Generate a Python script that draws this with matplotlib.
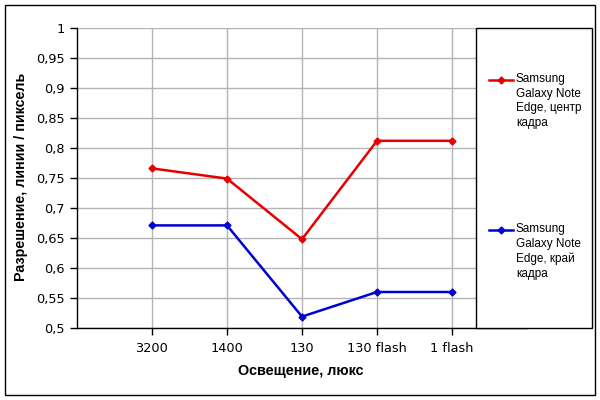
import matplotlib
matplotlib.use("Agg")
import matplotlib.pyplot as plt
from matplotlib.patches import Rectangle
from matplotlib.lines import Line2D
from matplotlib.ticker import FuncFormatter

plt.rcParams['font.family'] = ['Liberation Sans', 'DejaVu Sans']

# data
categories = ["3200", "1400", "130", "130 flash", "1 flash"]
center = [0.766, 0.749, 0.648, 0.812, 0.812]
edge = [0.671, 0.671, 0.519, 0.560, 0.560]
series_names = ["Samsung\nGalaxy Note\nEdge, центр\nкадра",
                "Samsung\nGalaxy Note\nEdge, край\nкадра"]
red = "#e60000"
blue = "#0000d2"

fig = plt.figure(figsize=(6, 4), dpi=100)
ax = fig.add_axes([77 / 600, 72 / 400, 450 / 600, 300 / 400])

x = list(range(1, len(categories) + 1))
ax.plot(x, center, color=red, lw=1.8, marker="D", ms=3.5, zorder=3)
ax.plot(x, edge, color=blue, lw=1.8, marker="D", ms=3.5, zorder=3)

ax.set_xlim(0, 6)
ax.set_ylim(0.5, 1.0)
ax.set_xticks(x)
ax.set_xticklabels(categories, fontsize=9.3, family="DejaVu Sans")
ax.set_yticks([0.5 + 0.05 * i for i in range(11)])
ax.yaxis.set_major_formatter(FuncFormatter(
    lambda v, p: ("%g" % round(v, 2)).replace(".", ",")))
for lab in ax.get_yticklabels():
    lab.set_family("DejaVu Sans")
ax.tick_params(axis="y", labelsize=9.3, length=5, width=1, pad=4)
ax.tick_params(axis="x", length=5, width=1, pad=5)
ax.grid(True, color="#b4b4b4", lw=1)
ax.set_axisbelow(True)
for s in ["top", "right"]:
    ax.spines[s].set_visible(False)
for s in ["left", "bottom"]:
    ax.spines[s].set_linewidth(1)
    ax.spines[s].set_color("black")

fig.text(301 / 600, 1 - 371 / 400, "Освещение, люкс", ha="center", va="center",
         fontsize=10.4, fontweight="bold")
fig.text(21 / 600, 1 - 177 / 400, "Разрешение, линии / пиксель", ha="center",
         va="center", rotation=90, fontsize=10.3, fontweight="bold")

# legend box covering the right part of the plot area
fig.add_artist(Rectangle((476 / 600, 72 / 400), 116 / 600, 300 / 400,
                         transform=fig.transFigure, facecolor="white",
                         edgecolor="black", lw=1, zorder=5))
for yy, col, name in [(80, red, series_names[0]), (230, blue, series_names[1])]:
    fy = 1 - yy / 400
    fig.add_artist(Line2D([489 / 600, 513 / 600], [fy, fy], color=col, lw=1.8,
                          transform=fig.transFigure, zorder=6))
    fig.add_artist(Line2D([501 / 600], [fy], color=col, marker="D", ms=3.5,
                          transform=fig.transFigure, zorder=6))
    fig.text(516 / 600, 1 - (yy - 7) / 400, name, ha="left", va="top",
             fontsize=8.5, linespacing=1.3, zorder=7)

# outer chart frame
fig.add_artist(Rectangle((5 / 600, 5 / 400), 590 / 600, 390 / 400,
                         transform=fig.transFigure, facecolor="none",
                         edgecolor="black", lw=1, zorder=8))

fig.savefig("out.png", dpi=100)
